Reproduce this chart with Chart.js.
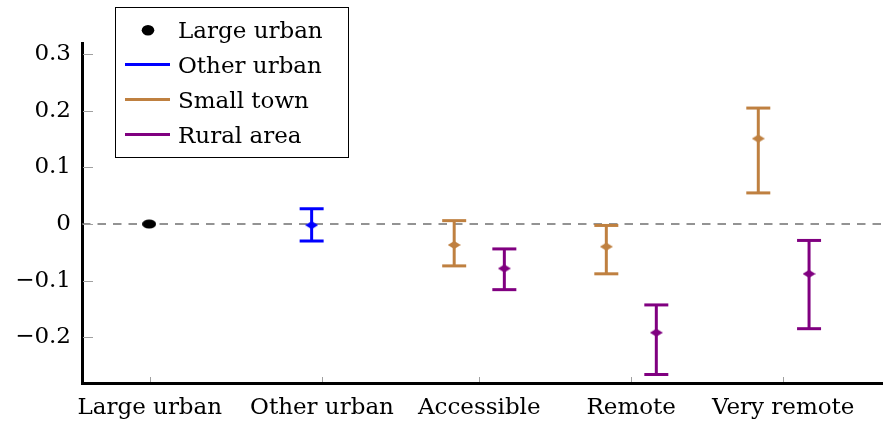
<!DOCTYPE html>
<html>
<head>
<meta charset="utf-8">
<script src="https://cdn.jsdelivr.net/npm/chart.js@4.4.1/dist/chart.umd.min.js"></script>
<style>
  html, body { margin: 0; padding: 0; background: #fff; }
  #wrap { width: 883px; height: 426px; position: relative; }
</style>
</head>
<body>
<div id="wrap"><canvas id="chart"></canvas></div>
<script>
// x axis categories and where their ticks sit
const categories = ['Large urban', 'Other urban', 'Accessible', 'Remote', 'Very remote'];
const categoryX = [0.832, 1.965, 3, 4, 5];
const yTicks = [-0.2, -0.1, 0, 0.1, 0.2, 0.3];

// reference group
const largeUrbanX = [0.828];
const largeUrbanEst = [0];

const otherUrbanX = [1.897];
const otherUrbanEst = [-0.002];
const otherUrbanLo = [-0.030];
const otherUrbanHi = [0.027];

const smallTownX = [2.835, 3.836, 4.836];
const smallTownEst = [-0.037, -0.040, 0.151];
const smallTownLo = [-0.074, -0.088, 0.055];
const smallTownHi = [0.006, -0.0025, 0.205];

const ruralX = [3.165, 4.165, 5.17];
const ruralEst = [-0.0785, -0.192, -0.088];
const ruralLo = [-0.116, -0.266, -0.185];
const ruralHi = [-0.044, -0.143, -0.029];

const legendLabels = ['Large urban', 'Other urban', 'Small town', 'Rural area'];

const BLUE = '#0000ff';
const BROWN = '#bf8040';
const PURPLE = '#800080';
const FONT = "'DejaVu Serif', serif";
const X_MIN = 0.386, X_MAX = 5.65;

// little marker images (pgfplots diamonds are a bit flattened)
function diamond(color) {
  const c = document.createElement('canvas');
  c.width = 13; c.height = 8;
  const g = c.getContext('2d');
  g.fillStyle = color;
  g.beginPath();
  g.moveTo(0, 4); g.lineTo(6.5, 0); g.lineTo(13, 4); g.lineTo(6.5, 8);
  g.closePath();
  g.fill();
  return c;
}
function blob() {
  const c = document.createElement('canvas');
  c.width = 14; c.height = 10;
  const g = c.getContext('2d');
  g.fillStyle = '#000';
  g.beginPath();
  g.ellipse(7, 5, 7, 4.6, 0, 0, Math.PI * 2);
  g.fill();
  return c;
}

function errorBars(xs, lo, hi, color) {
  return xs.map((x, i) => ({
    type: 'scatter',
    showLine: true,
    data: [{ x: x, y: lo[i] }, { x: x, y: hi[i] }],
    borderColor: color,
    borderWidth: 3,
    pointStyle: 'line',
    pointRadius: 12,
    pointBorderWidth: 3,
    pointBorderColor: color,
    order: 5
  }));
}

function markers(xs, ys, style) {
  return {
    type: 'scatter',
    data: xs.map((x, i) => ({ x: x, y: ys[i] })),
    pointStyle: style,
    pointRadius: 6,
    order: 1
  };
}

const datasets = [
  {
    type: 'scatter',
    showLine: true,
    data: [{ x: X_MIN, y: 0 }, { x: X_MAX, y: 0 }],
    borderColor: '#707070',
    borderWidth: 1.6,
    borderDash: [8.5, 7],
    pointRadius: 0,
    order: 10
  },
  ...errorBars(otherUrbanX, otherUrbanLo, otherUrbanHi, BLUE),
  ...errorBars(smallTownX, smallTownLo, smallTownHi, BROWN),
  ...errorBars(ruralX, ruralLo, ruralHi, PURPLE),
  markers(largeUrbanX, largeUrbanEst, blob()),
  markers(otherUrbanX, otherUrbanEst, diamond(BLUE)),
  markers(smallTownX, smallTownEst, diamond(BROWN)),
  markers(ruralX, ruralEst, diamond(PURPLE))
];

// inward ticks and the boxed legend, pgfplots style
const decorations = {
  id: 'decorations',
  afterDraw(chart) {
    const ctx = chart.ctx;
    const xs = chart.scales.x, ys = chart.scales.y;
    const area = chart.chartArea;
    ctx.save();
    ctx.strokeStyle = '#a0a0a0';
    ctx.lineWidth = 1;
    yTicks.forEach(v => {
      const py = Math.round(ys.getPixelForValue(v)) + 0.5;
      ctx.beginPath(); ctx.moveTo(area.left + 1, py); ctx.lineTo(area.left + 11, py); ctx.stroke();
    });
    categoryX.forEach(v => {
      const px = Math.round(xs.getPixelForValue(v)) + 0.5;
      ctx.beginPath(); ctx.moveTo(px, area.bottom - 1); ctx.lineTo(px, area.bottom - 6); ctx.stroke();
    });

    // legend
    ctx.fillStyle = '#fff';
    ctx.fillRect(115.5, 7.5, 233, 150);
    ctx.strokeStyle = '#000';
    ctx.strokeRect(115.5, 7.5, 233, 150);
    const colors = [null, BLUE, BROWN, PURPLE];
    ctx.font = '23px ' + FONT;
    ctx.textBaseline = 'alphabetic';
    ctx.textAlign = 'left';
    legendLabels.forEach((lab, i) => {
      const cy = 29.5 + i * 35;
      if (i === 0) {
        ctx.fillStyle = '#000';
        ctx.beginPath(); ctx.ellipse(148, cy + 0.8, 6.3, 5.3, 0, 0, Math.PI * 2); ctx.fill();
      } else {
        ctx.strokeStyle = colors[i];
        ctx.lineWidth = 3;
        ctx.beginPath(); ctx.moveTo(125, cy); ctx.lineTo(170, cy); ctx.stroke();
      }
      ctx.fillStyle = '#000';
      ctx.fillText(lab, 178, cy + 8);
    });
    ctx.restore();
  }
};

new Chart(document.getElementById('chart'), {
  type: 'scatter',
  data: { datasets: datasets },
  options: {
    responsive: true,
    maintainAspectRatio: false,
    animation: false,
    events: [],
    layout: { autoPadding: false, padding: { top: 43, right: 1, left: 0, bottom: 0 } },
    plugins: { legend: { display: false }, tooltip: { enabled: false } },
    scales: {
      x: {
        type: 'linear',
        min: X_MIN,
        max: X_MAX,
        afterBuildTicks: s => { s.ticks = categoryX.map(v => ({ value: v })); },
        afterFit: s => { s.height = 43; s.paddingLeft = 0; s.paddingRight = 0; },
        grid: { display: false, drawTicks: false },
        border: { display: true, color: '#000', width: 3 },
        ticks: {
          autoSkip: false,
          maxRotation: 0,
          padding: 11,
          color: '#000',
          font: { family: FONT, size: 23 },
          callback: (v, i) => categories[i]
        }
      },
      y: {
        min: -0.281,
        max: 0.32,
        afterBuildTicks: s => { s.ticks = yTicks.map(v => ({ value: v })); },
        afterFit: s => { s.width = 82; s.paddingTop = 0; s.paddingBottom = 0; },
        grid: { display: false, drawTicks: false },
        border: { display: true, color: '#000', width: 3 },
        ticks: {
          padding: 11,
          color: '#000',
          font: { family: FONT, size: 23 },
          callback: v => v === 0 ? '0' : (v < 0 ? '\u2212' : '') + Math.abs(v).toFixed(1)
        }
      }
    }
  },
  plugins: [decorations]
});
</script>
</body>
</html>
